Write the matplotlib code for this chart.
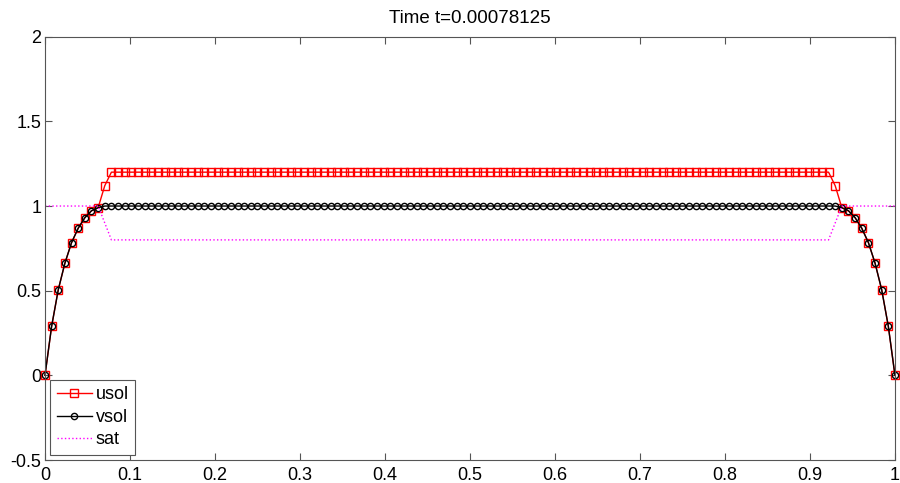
import numpy as np
import matplotlib
matplotlib.use("Agg")
import matplotlib.pyplot as plt

plt.rcParams['font.family'] = ['Liberation Sans', 'DejaVu Sans']

# grid: 129 nodes on [0, 1]
x = np.linspace(0, 1, 129)

# values (left edge ramp, mirrored on the right)
ramp = [0.0, 0.29, 0.506, 0.663, 0.784, 0.869, 0.931, 0.972, 0.99]
u_step = 1.12
u_top = 1.2
v_top = 1.0
sat_step = 0.9
sat_low = 0.8

usol = ramp + [u_step] + [u_top] * 109 + [u_step] + ramp[::-1]
vsol = ramp + [v_top] * 111 + ramp[::-1]
sat = [1.0] * 9 + [sat_step] + [sat_low] * 109 + [sat_step] + [1.0] * 9

title = "Time t=0.00078125"

fig = plt.figure(figsize=(9, 4.83), dpi=100)
ax = fig.add_axes([0.05, 0.0476, 0.9444, 0.8764])

ax.plot(x, usol, color='red', lw=1.0, marker='s', ms=6, mfc='none',
        mec='red', mew=1.0, label='usol', clip_on=False)
ax.plot(x, vsol, color='black', lw=1.0, marker='o', ms=4.5, mfc='none',
        mec='black', mew=1.0, label='vsol', clip_on=False)
ax.plot(x, sat, color='magenta', lw=1.0, ls=':', label='sat', clip_on=False)

ax.set_xlim(0, 1)
ax.set_ylim(-0.5, 2)
ax.set_xticks(np.arange(0, 1.01, 0.1))
ax.set_xticklabels(['0', '0.1', '0.2', '0.3', '0.4', '0.5', '0.6', '0.7', '0.8', '0.9', '1'])
ax.set_yticks([-0.5, 0, 0.5, 1, 1.5, 2])
ax.set_yticklabels(['-0.5', '0', '0.5', '1', '1.5', '2'])
ax.tick_params(direction='in', length=5, width=0.8, colors='#555555',
               labelcolor='black', labelsize=13, top=True, right=True)
ax.tick_params(axis='x', pad=5)
ax.tick_params(axis='y', pad=2.5)
for s in ax.spines.values():
    s.set_color('#555555')
    s.set_linewidth(0.8)

ax.set_title(title, fontsize=13.5, pad=10)

leg = ax.legend(loc='lower left', fontsize=13, handlelength=1.95,
                borderaxespad=0.3, fancybox=False, framealpha=1,
                labelspacing=0.3, borderpad=0.35, handletextpad=0.2,
                numpoints=1)
leg.get_frame().set_edgecolor('#555555')
leg.get_frame().set_linewidth(0.8)

fig.savefig('out.png', dpi=100)
